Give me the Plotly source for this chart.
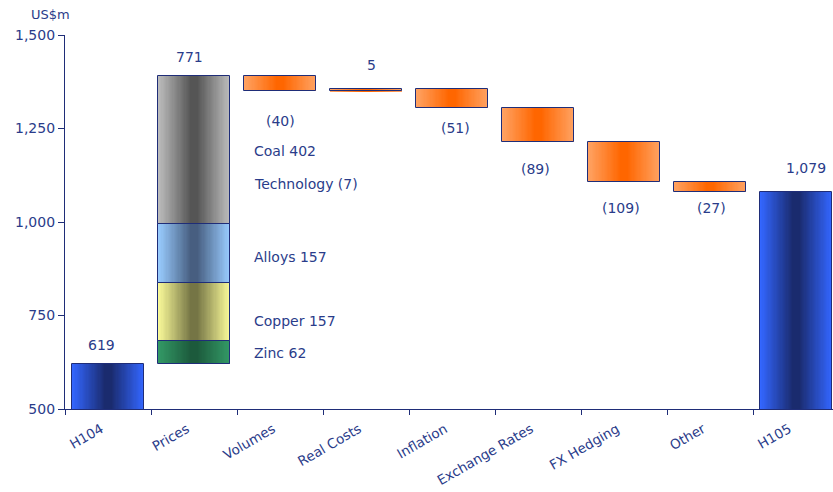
import plotly.graph_objects as go

# ---------------- data ----------------
categories = ["H104", "Prices", "Volumes", "Real Costs", "Inflation",
              "Exchange Rates", "FX Hedging", "Other", "H105"]
start_value = 619
price_segments = ["Zinc", "Copper", "Alloys", "Coal", "Technology"]
price_values = [62, 157, 157, 402, -7]
changes = [-40, 5, -51, -89, -109, -27]   # Volumes .. Other

# ---------------- styling ----------------
NAVY = "#1F2D78"
TEXT = "#2A3C8A"
FONT = "DejaVu Sans"
BAR_W = 0.84
N_LAYERS = 30

BLUE = ("#3366FF", "#1A2B6E")
ORANGE = ("#FFA262", "#FF6600")
GRAY = ("#BDBDBD", "#555555")
LBLUE = ("#99CCFF", "#475E80")
YELLOW = ("#FAFA99", "#757545")
GREEN = ("#339966", "#1C5A3C")


def hex2rgb(h):
    h = h.lstrip("#")
    return tuple(int(h[i:i + 2], 16) for i in (0, 2, 4))


def mix(c1, c2, t):
    a, b = hex2rgb(c1), hex2rgb(c2)
    return "rgb(%d,%d,%d)" % tuple(round(a[i] + (b[i] - a[i]) * t) for i in range(3))


# ---------------- build bars from data ----------------
bars = []  # (category, base, height, (edge, center))
bars.append((categories[0], 0, start_value, BLUE))

seg_colors = [GREEN, YELLOW, LBLUE, GRAY]
level = start_value
seg_bounds = []
for i, (name, v) in enumerate(zip(price_segments[:3], price_values[:3])):
    bars.append((categories[1], level, v, seg_colors[i]))
    seg_bounds.append((level, level + v))
    level += v
coal_tech = price_values[3] + price_values[4]
bars.append((categories[1], level, coal_tech, GRAY))
seg_bounds.append((level, level + coal_tech))
level += coal_tech
prices_total = sum(price_values)

running = level
change_bounds = []
for cat, v in zip(categories[2:8], changes):
    lo, hi = min(running, running + v), max(running, running + v)
    bars.append((cat, lo, hi - lo, ORANGE))
    change_bounds.append((lo, hi))
    running += v
end_value = running
bars.append((categories[8], 0, end_value, BLUE))

fig = go.Figure()

for k in range(N_LAYERS):
    f = 1 - k / N_LAYERS
    t = min(1.0, (k / N_LAYERS) / 0.9)
    fig.add_trace(go.Bar(
        x=[b[0] for b in bars],
        y=[b[2] for b in bars],
        base=[b[1] for b in bars],
        width=BAR_W * f,
        marker=dict(color=[mix(b[3][0], b[3][1], t) for b in bars], line=dict(width=0)),
        hoverinfo="skip", showlegend=False,
    ))

# outlines
fig.add_trace(go.Bar(
    x=[b[0] for b in bars],
    y=[b[2] for b in bars],
    base=[b[1] for b in bars],
    width=BAR_W,
    marker=dict(color="rgba(0,0,0,0)", line=dict(color=NAVY, width=1)),
    hoverinfo="skip", showlegend=False,
))

# ---------------- value labels ----------------
def fmt(v):
    s = "{:,}".format(abs(v))
    return "(%s)" % s if v < 0 else s

label_font = dict(family=FONT, size=14, color=TEXT)
ann = []
ann.append(dict(x=categories[0], y=start_value, text=fmt(start_value), yshift=19, xshift=-7))
ann.append(dict(x=categories[1], y=start_value + prices_total, text=fmt(prices_total), yshift=19, xshift=-5))
ann.append(dict(x=categories[8], y=end_value, text=fmt(end_value), yshift=24, xshift=10))
shifts = [30, 24, 20, 27, 26, 16]
xsh = [0, 5, 3, -3, -3, 1]
for cat, v, (lo, hi), s, xs in zip(categories[2:8], changes, change_bounds, shifts, xsh):
    if v >= 0:
        ann.append(dict(x=cat, y=hi, text=fmt(v), yshift=s, xshift=xs))
    else:
        ann.append(dict(x=cat, y=lo, text=fmt(v), yshift=-s, xshift=xs))
for a in ann:
    a.update(showarrow=False, font=label_font, yanchor="middle", xanchor="center")
    fig.add_annotation(**a)

# segment labels
seg_font = dict(family=FONT, size=14, color=TEXT)
seg_texts = ["%s %s" % (n, fmt(v)) for n, v in zip(price_segments, price_values)]
seg_y = [(lo + hi) / 2 for lo, hi in seg_bounds]
seg_pos = [(seg_y[0], 0), (seg_y[1], -9), (seg_y[2], -4), (seg_y[3], -1), (seg_y[3], -34)]
for txt, (yy, ys) in zip(seg_texts, seg_pos):
    fig.add_annotation(x=1.68, y=yy, xref="x", yref="y", text=txt, showarrow=False,
                       xanchor="left", yanchor="middle", yshift=ys, font=seg_font)

fig.add_annotation(x=(50 - 65) / 768, y=(409 - 14) / 374, xref="paper", yref="paper",
                   text="US$m", showarrow=False, xanchor="center", yanchor="middle",
                   font=dict(family=FONT, size=13, color=TEXT))

fig.update_layout(
    width=833, height=492,
    margin=dict(l=65, r=0, t=35, b=83, autoexpand=False),
    paper_bgcolor="white", plot_bgcolor="white",
    barmode="overlay", bargap=0,
    showlegend=False,
    font=dict(family=FONT, color=TEXT),
    xaxis=dict(type="category", categoryorder="array", categoryarray=categories,
               range=[-0.5, 8.43], showline=True, linecolor=NAVY, linewidth=1.2,
               ticks="outside", tickson="boundaries", ticklen=5, tickcolor=NAVY,
               tickangle=-30, tickfont=dict(family=FONT, size=13.5, color=TEXT),
               ticklabelstandoff=6, ticklabelshift=-7, automargin=False,
               showgrid=False, zeroline=False, fixedrange=True),
    yaxis=dict(range=[500, 1500], tickvals=[500, 750, 1000, 1250, 1500],
               tickformat=",d", showline=True, linecolor=NAVY, linewidth=1.2,
               ticks="outside", ticklen=6, tickcolor=NAVY, automargin=False,
               tickfont=dict(family=FONT, size=14, color=TEXT),
               showgrid=False, zeroline=False, fixedrange=True),
)

fig.write_html("out.html")
